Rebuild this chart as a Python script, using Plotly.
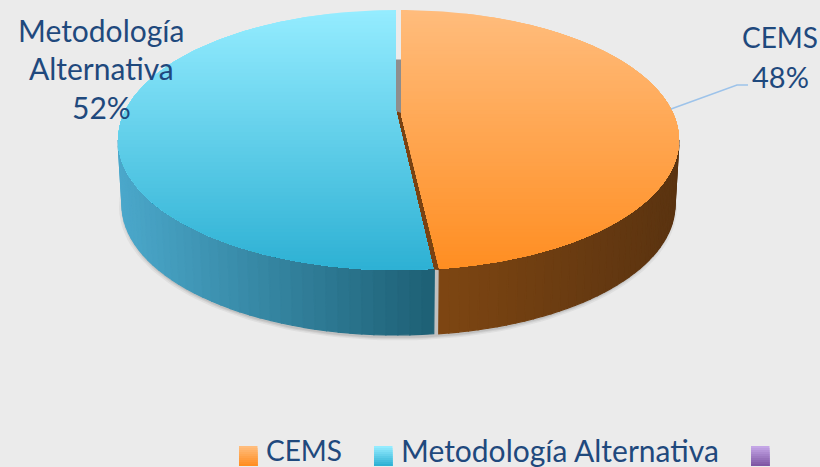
import numpy as np
import plotly.graph_objects as go

categories = ["CEMS", "Metodología Alternativa", ""]
values = [47.8, 52.2, 0]
top_colors = [("#FFBC7C", "#FF8E22"), ("#94ECFF", "#2EB1D4"), ("#C4A6E6", "#7F56A4")]
side_colors = [("#7E4612", "#5A3310"), ("#4BA8CB", "#1D5F74")]
BG = "#EBEBEB"
TEXT = "#1F497D"

CY, RY, RX = 140.0, 130.0, 278.0
CY_B, RY_B, RX_B = 205.0, 130.0, 274.0
centres = [401.0, 396.0]
apexes = [114.0, 111.0]
N_BANDS = 70

def hex2rgb(h):
    return np.array([int(h[i:i + 2], 16) for i in (1, 3, 5)], float)

def mix(a, b, t):
    c = hex2rgb(a) * (1 - t) + hex2rgb(b) * t
    return "rgb(%d,%d,%d)" % tuple(c.round())

def clip_below(pts, y0):
    """keep the part of a polygon with y >= y0"""
    out = []
    n = len(pts)
    for i in range(n):
        a, b = pts[i], pts[(i + 1) % n]
        ia, ib = a[1] >= y0, b[1] >= y0
        if ia:
            out.append(a)
        if ia != ib:
            t = (y0 - a[1]) / (b[1] - a[1])
            out.append((a[0] + t * (b[0] - a[0]), y0))
    return out

fig = go.Figure()

def poly(pts, color, line=True):
    xs = [p[0] for p in pts] + [pts[0][0]]
    ys = [p[1] for p in pts] + [pts[0][1]]
    fig.add_trace(go.Scatter(x=xs, y=ys, mode="lines", fill="toself", fillcolor=color,
                             line=dict(color=color if line else "rgba(0,0,0,0)", width=1.2 if line else 0),
                             hoverinfo="skip", showlegend=False))

total = sum(values)
angles = np.cumsum([0] + values) / total * 2 * np.pi
spans = [(angles[0], angles[1]), (angles[1], angles[2])]

def ell(cx, cy, rx, ry, th):
    return cx + rx * np.sin(th), cy - ry * np.cos(th)

# soft shadow under the pie
th = np.linspace(0, 2 * np.pi, 160)
for grow, col in [(5, "rgba(120,120,120,0.10)"), (3, "rgba(120,120,120,0.14)"), (1.5, "rgba(120,120,120,0.18)")]:
    sx, sy = ell(398, CY_B + 2, RX_B + grow, RY_B + grow * 0.7, th)
    poly(list(zip(sx, sy)), col, line=False)

# grey back wall visible in the gap between the slices
poly([(396, 60), (401.5, 60), (401.5, 114), (396, 114)], "#8E8E8E")

# side walls, painted from the far ends toward the front seam
for idx, (a, b) in enumerate(spans):
    cx = centres[idx]
    lo, hi = (np.pi / 2, b) if idx == 0 else (a, 3 * np.pi / 2)
    edges = np.linspace(lo, hi, 40)
    pairs = list(zip(edges[:-1], edges[1:]))
    if idx == 1:
        pairs = pairs[::-1]
    for t0, t1 in pairs:
        x0, y0 = ell(cx, CY, RX, RY, t0)
        x1, y1 = ell(cx, CY, RX, RY, t1)
        x2, y2 = ell(cx, CY_B, RX_B, RY_B, t1)
        x3, y3 = ell(cx, CY_B, RX_B, RY_B, t0)
        if idx == 0:
            u = ((x0 + x1) / 2 - (cx + 36)) / (RX - 36)
        else:
            u = ((x0 + x1) / 2 - (cx - RX)) / (RX + 40)
        u = float(np.clip(u, 0, 1))
        poly([(x0, y0), (x1, y1), (x2, y2), (x3, y3)], mix(*side_colors[idx], u))

# brown inner wall between the slices
ex, ey = ell(centres[0], CY, RX, RY, spans[0][1])
ex2, ey2 = ell(centres[1], CY, RX, RY, spans[1][0])
poly([(centres[1] + 1, apexes[1] + 1), (centres[0] + 1, apexes[0]), (ex + 1, ey + 1), (ex2 - 1, ey2)], "#7A4212")

# top faces: banded vertical gradient
for idx, (a, b) in enumerate(spans):
    cx = centres[idx]
    ts = np.linspace(a, b, 160)
    if idx == 1:
        ts = ts[ts >= a]
    ax, ay = ell(cx, CY, RX, RY, ts)
    if idx == 1:
        ax[0] -= 1
    pts = [(cx, apexes[idx])] + list(zip(ax, ay))
    for k in range(N_BANDS):
        y0 = CY - RY + k * 2 * RY / N_BANDS
        clipped = clip_below(pts, y0)
        if len(clipped) >= 3:
            poly(clipped, mix(*top_colors[idx], k / (N_BANDS - 1)), line=False)

# leader line
fig.add_trace(go.Scatter(x=[671, 737, 748], y=[109, 85, 85], mode="lines",
                         line=dict(color="#9DC3EA", width=1.5), hoverinfo="skip", showlegend=False))

# legend swatches
sw_x = [239, 374, 751]
for (x0, cols) in zip(sw_x, top_colors):
    for k in range(10):
        y0 = 446 + k * 2
        poly([(x0, y0), (x0 + 18.5, y0), (x0 + 18.5, 466), (x0, 466)], mix(*cols, k / 9), line=False)

annots = []
def txt(x, y, s, anchor="center", size=30):
    annots.append(dict(x=x, y=y, text=s, showarrow=False, xanchor=anchor, yanchor="middle",
                       font=dict(family="Lato, Carlito, sans-serif", size=size, color=TEXT)))

lab_meto = ["Metodología", "Alternativa", f"{round(values[1])}%"]
lab_cems = [categories[0], f"{round(values[0])}%"]
for s, y in zip(lab_meto, [30, 68, 107]):
    txt(101, y, s)
txt(780, 37, lab_cems[0], size=28)
txt(780, 76, lab_cems[1], size=29)
txt(264, 449.5, categories[0], "left", size=28)
txt(399, 449.5, categories[1], "left")

fig.update_layout(
    width=820, height=467, margin=dict(l=0, r=0, t=0, b=0),
    paper_bgcolor=BG, plot_bgcolor=BG, showlegend=False, annotations=annots,
    xaxis=dict(range=[0, 820], visible=False, fixedrange=True),
    yaxis=dict(range=[467, 0], visible=False, fixedrange=True),
)
fig.write_html("out.html", config={"displayModeBar": False},
               post_script="document.body.style.margin='0';document.body.style.overflow='hidden';")
